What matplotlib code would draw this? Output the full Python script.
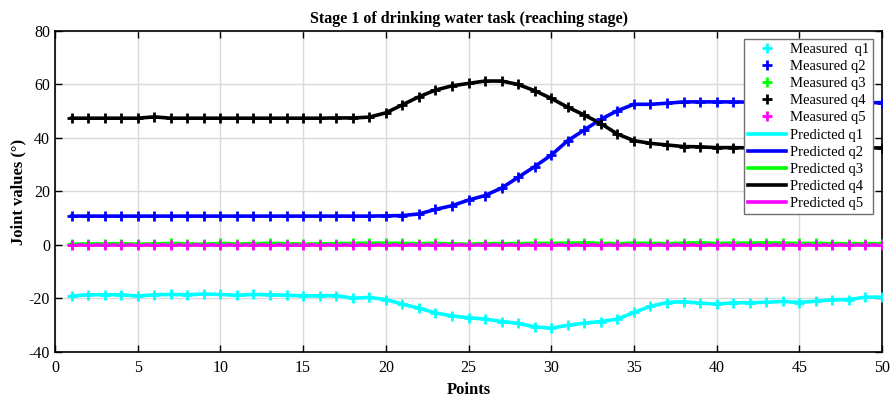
import matplotlib
matplotlib.use('Agg')
import matplotlib.pyplot as plt
import numpy as np

# Data
points = list(range(1, 51))

q1 = [-19.1, -18.6, -18.6, -18.6, -19.1, -18.6, -18.5, -18.6, -18.3, -18.5,
      -18.8, -18.5, -18.6, -18.8, -19.0, -19.0, -18.9, -19.9, -19.6, -20.4,
      -22.1, -23.6, -25.4, -26.5, -27.2, -27.7, -28.6, -29.3, -30.6, -31.1,
      -30.0, -29.2, -28.6, -27.7, -25.2, -22.9, -21.5, -21.2, -21.7, -22.1,
      -21.6, -21.6, -21.4, -21.1, -21.5, -21.0, -20.5, -20.4, -19.5, -19.5]

q2 = [10.8, 10.8, 10.8, 10.8, 10.8, 10.8, 10.8, 10.8, 10.8, 10.8,
      10.8, 10.8, 10.8, 10.8, 10.8, 10.8, 10.8, 10.8, 10.8, 10.9,
      11.0, 11.6, 13.3, 14.7, 16.8, 18.5, 21.3, 25.3, 29.3, 33.6,
      39.0, 43.0, 47.0, 50.2, 52.6, 52.6, 53.0, 53.5, 53.5, 53.5,
      53.5, 53.4, 53.4, 53.4, 53.3, 53.3, 53.3, 53.2, 53.2, 53.2]

q3 = [0.3, 0.4, 0.4, 0.5, 0.3, 0.4, 0.6, 0.4, 0.3, 0.6,
      0.4, 0.5, 0.6, 0.5, 0.3, 0.4, 0.5, 0.6, 0.7, 0.7,
      0.6, 0.5, 0.6, 0.4, 0.3, 0.5, 0.5, 0.5, 0.6, 0.6,
      0.7, 0.8, 0.6, 0.5, 0.7, 0.6, 0.5, 0.7, 0.8, 0.6,
      0.7, 0.7, 0.8, 0.7, 0.6, 0.6, 0.5, 0.5, 0.5, 0.5]

q4 = [47.4, 47.4, 47.4, 47.4, 47.4, 47.9, 47.4, 47.4, 47.4, 47.4,
      47.4, 47.4, 47.4, 47.4, 47.4, 47.4, 47.5, 47.5, 47.8, 49.4,
      52.4, 55.4, 57.9, 59.5, 60.4, 61.3, 61.3, 60.0, 57.7, 54.8,
      51.5, 48.6, 45.4, 41.5, 39.0, 38.0, 37.4, 36.8, 36.7, 36.4,
      36.4, 36.3, 36.3, 36.3, 36.3, 36.3, 36.3, 36.3, 36.3, 36.3]

q5 = [0.0, 0.0, 0.0, 0.0, 0.0, 0.0, 0.0, 0.0, 0.0, 0.0,
      0.0, 0.0, 0.0, 0.0, 0.0, 0.0, 0.0, 0.0, 0.0, 0.0,
      0.0, 0.0, 0.0, 0.0, 0.0, 0.0, 0.0, 0.0, 0.0, 0.0,
      0.0, 0.0, 0.0, 0.0, 0.0, 0.0, 0.0, 0.0, 0.0, 0.0,
      0.0, 0.0, 0.0, 0.0, 0.0, 0.0, 0.0, 0.0, 0.0, 0.0]

joints = [q1, q2, q3, q4, q5]
colors = ['#00ffff', '#0000ff', '#00ff00', '#000000', '#ff00ff']
measured_labels = ['Measured  q1', 'Measured q2', 'Measured q3', 'Measured q4', 'Measured q5']
predicted_labels = ['Predicted q1', 'Predicted q2', 'Predicted q3', 'Predicted q4', 'Predicted q5']

plt.rcParams['font.family'] = ['Liberation Serif', 'DejaVu Serif']
plt.rcParams['axes.unicode_minus'] = False

fig = plt.figure(figsize=(8.94, 4.01), dpi=100)
ax = fig.add_axes([0.0615, 0.1222, 0.9251, 0.8005])

# measured points
for vals, c, lab in zip(joints, colors, measured_labels):
    ax.plot(points, vals, linestyle='none', marker='+', markersize=7,
            markeredgewidth=2, color=c, label=lab, zorder=3)

# predicted curves
for vals, c, lab in zip(joints, colors, predicted_labels):
    ax.plot(points, vals, linestyle='-', linewidth=2.6, color=c, label=lab, zorder=2)

ax.set_xlim(0, 50)
ax.set_ylim(-40, 80)
ax.set_xticks(np.arange(0, 51, 5))
ax.set_yticks(np.arange(-40, 81, 20))
ax.grid(True, color='#d9d9d9', linewidth=1)
ax.set_axisbelow(True)

ax.tick_params(direction='in', top=True, right=True, length=5, width=1,
               labelsize=11.5, colors='black')
ax.tick_params(axis='x', pad=6)
for s in ax.spines.values():
    s.set_linewidth(1.2)

ax.set_title('Stage 1 of drinking water task (reaching stage)', fontsize=11.5,
             fontweight='bold', pad=6)
ax.set_xlabel('Points', fontsize=12, fontweight='bold', labelpad=4)
ax.set_ylabel('Joint values (°)', fontsize=12, fontweight='bold', labelpad=2)

leg = ax.legend(loc='upper right', bbox_to_anchor=(0.989, 0.975), borderaxespad=0,
                fontsize=10.5, handlelength=2.6, labelspacing=0.27, handletextpad=0.3,
                borderpad=0.25, fancybox=False, framealpha=1, edgecolor='#707070')
leg.get_frame().set_linewidth(1)

fig.savefig('out.png', dpi=100)
